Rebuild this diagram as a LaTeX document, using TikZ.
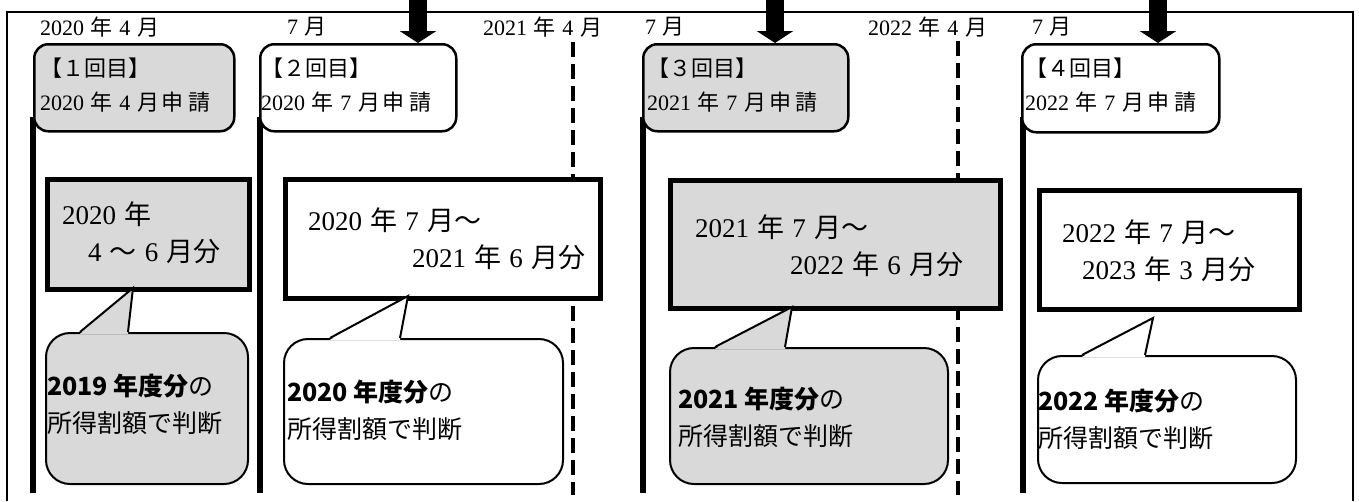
\documentclass[tikz,border=0pt]{standalone}
\usepackage{fontspec}
\setmainfont{Liberation Serif}
\newfontfamily\jp{Noto Sans CJK JP}
\usetikzlibrary{arrows.meta}
\definecolor{gr}{RGB}{217,217,217}
\newcommand\J[1]{{\jp #1}}
\newcommand\jg{\hspace{0.3em}}
\newcommand\shinsei{\J{月}\hspace{3pt}\J{申}\hspace{5pt}\J{請}}
\begin{document}
\begin{tikzpicture}[x=1pt,y=-1pt,
 frame/.style={line width=2.5pt},
 tline/.style={line width=6pt},
 tdash/.style={line width=4.5pt, dash pattern=on 15pt off 7pt},
 rbox/.style={draw, line width=2.5pt, rounded corners=14pt, inner sep=0pt, anchor=north west},
 mbox/.style={draw, line width=5pt, inner sep=0pt, anchor=north west},
 bub/.style={draw, line width=2pt, rounded corners=24pt, inner sep=0pt, anchor=north west},
 ptr/.style={line width=2pt},
 lab/.style={font=\fontsize{22}{34}\selectfont, inner sep=0pt, anchor=west},
 ttxt/.style={font=\fontsize{22}{34}\selectfont, inner sep=0pt, anchor=west, align=left},
 mtxt/.style={font=\fontsize{27}{37}\selectfont, inner sep=0pt, anchor=west, align=left},
 btxt/.style={font=\fontsize{25}{37}\selectfont, inner sep=0pt, anchor=west, align=left},
 bigarrow/.style={line width=18pt, -{Triangle[width=36pt,length=12pt]}}
]
\useasboundingbox (0,0) rectangle (1359,501);
% frame
\coordinate (f1) at (7,501); \coordinate (f2) at (7,12);
\coordinate (f3) at (1353,12); \coordinate (f4) at (1353,501);
\draw[frame] (f1) -- (f2) -- (f3) -- (f4);

% timeline lines (solid)
\coordinate (s1) at (33,117); \coordinate (e1) at (33,493);
\coordinate (s2) at (260,117); \coordinate (e2) at (260,493);
\coordinate (s3) at (643,117); \coordinate (e3) at (643,493);
\coordinate (s4) at (1023,117); \coordinate (e4) at (1023,493);
\draw[tline] (s1) -- (e1);
\draw[tline] (s2) -- (e2);
\draw[tline] (s3) -- (e3);
\draw[tline] (s4) -- (e4);
% dashed
\coordinate (d1t) at (573,42); \coordinate (d1b) at (573,495);
\coordinate (d2t) at (958,41); \coordinate (d2b) at (958,495);
\draw[tdash] (d1t) -- (d1b);
\draw[tdash] (d2t) -- (d2b);

% top boxes
\node[rbox, fill=gr, minimum width=200pt, minimum height=87pt] (b1) at (33,43) {};
\node[rbox, fill=white, minimum width=196pt, minimum height=87pt] (b2) at (259,43) {};
\node[rbox, fill=gr, minimum width=205pt, minimum height=87pt] (b3) at (642,43) {};
\node[rbox, fill=white, minimum width=197pt, minimum height=88pt] (b4) at (1021,43) {};

% middle boxes
\node[mbox, fill=gr, minimum width=202pt, minimum height=110pt] (mA) at (45,177) {};
\node[mbox, fill=white, minimum width=315pt, minimum height=119pt] (mB) at (283,177) {};
\node[mbox, fill=gr, minimum width=330pt, minimum height=128pt] (mC) at (668,178) {};
\node[mbox, fill=white, minimum width=260pt, minimum height=119pt] (mD) at (1037,188) {};

% bubbles
\node[bub, fill=gr, minimum width=202pt, minimum height=151pt] (u1) at (45,332) {};
\node[bub, fill=white, minimum width=279pt, minimum height=145pt] (u2) at (283,338) {};
\node[bub, fill=gr, minimum width=278pt, minimum height=136pt] (u3) at (669,347) {};
\node[bub, fill=white, minimum width=258pt, minimum height=127pt] (u4) at (1037,355) {};

% pointers
\coordinate (u1a) at (80,332); \coordinate (u1b) at (128,332); \coordinate (u1t) at (133,288);
\fill[gr] ([yshift=-1.8pt]u1a) -- (u1t) -- ([yshift=-1.8pt]u1b) -- cycle;
\draw[ptr] (u1a) -- (u1t) -- (u1b);
\coordinate (u2a) at (330,338); \coordinate (u2b) at (400,338); \coordinate (u2t) at (408,296);
\fill[white] ([yshift=-1.8pt]u2a) -- (u2t) -- ([yshift=-1.8pt]u2b) -- cycle;
\draw[ptr] (u2a) -- (u2t) -- (u2b);
\coordinate (u3a) at (715,347); \coordinate (u3b) at (785,347); \coordinate (u3t) at (792,307);
\fill[gr] ([yshift=-1.8pt]u3a) -- (u3t) -- ([yshift=-1.8pt]u3b) -- cycle;
\draw[ptr] (u3a) -- (u3t) -- (u3b);
\coordinate (u4a) at (1082,355); \coordinate (u4b) at (1145,355); \coordinate (u4t) at (1153,318);
\fill[white] ([yshift=-1.8pt]u4a) -- (u4t) -- ([yshift=-1.8pt]u4b) -- cycle;
\draw[ptr] (u4a) -- (u4t) -- (u4b);

% date labels
\node[lab] (l1) at (40,27) {2020\jg\J{年}\jg 4\jg\J{月}};
\node[lab] (l2) at (287,27) {7\jg\J{月}};
\node[lab] (l3) at (483,27) {2021\jg\J{年}\jg 4\jg\J{月}};
\node[lab] (l4) at (645,27) {7\jg\J{月}};
\node[lab] (l5) at (868,27) {2022\jg\J{年}\jg 4\jg\J{月}};
\node[lab] (l6) at (1032,27) {7\jg\J{月}};

% top box texts
\node[ttxt] (t1) at (40,85) {\J{【１回目】}\\2020\jg\J{年}\jg 4\jg\shinsei};
\node[ttxt] (t2) at (261,85) {\J{【２回目】}\\2020\jg\J{年}\jg 7\jg\shinsei};
\node[ttxt] (t3) at (647,85) {\J{【３回目】}\\2021\jg\J{年}\jg 7\jg\shinsei};
\node[ttxt] (t4) at (1025,85) {\J{【４回目】}\\2022\jg\J{年}\jg 7\jg\shinsei};

% middle box texts
\node[mtxt] (mAt) at (62,233) {2020\jg\J{年}\\\hspace*{26pt}4\jg\J{～}\jg 6\jg\J{月分}};
\node[mtxt] (mBt) at (308,239) {2020\jg\J{年}\jg 7\jg\J{月～}\\\hspace*{104pt}2021\jg\J{年}\jg 6\jg\J{月分}};
\node[mtxt] (mCt) at (695,245.5) {2021\jg\J{年}\jg 7\jg\J{月～}\\\hspace*{95pt}2022\jg\J{年}\jg 6\jg\J{月分}};
\node[mtxt] (mDt) at (1062,251) {2022\jg\J{年}\jg 7\jg\J{月～}\\\hspace*{20pt}2023\jg\J{年}\jg 3\jg\J{月分}};

% bubble texts
\node[btxt] (u1x) at (47,404.5) {{\jp\bfseries\fontsize{25}{37}\selectfont 2019 年度分}\J{の}\\\J{所得割額で判断}};
\node[btxt] (u2x) at (287,410) {{\jp\bfseries\fontsize{25}{37}\selectfont 2020 年度分}\J{の}\\\J{所得割額で判断}};
\node[btxt] (u3x) at (678,417) {{\jp\bfseries\fontsize{25}{37}\selectfont 2021 年度分}\J{の}\\\J{所得割額で判断}};
\node[btxt] (u4x) at (1038,419) {{\jp\bfseries\fontsize{25}{37}\selectfont 2022 年度分}\J{の}\\\J{所得割額で判断}};

% arrows
\coordinate (a1) at (418,-3); \coordinate (a2) at (775,-3); \coordinate (a3) at (1158,-3);
\draw[bigarrow] (a1) -- (b2.north -| a1);
\draw[bigarrow] (a2) -- (b3.north -| a2);
\draw[bigarrow] (a3) -- (b4.north -| a3);
\end{tikzpicture}
\end{document}
